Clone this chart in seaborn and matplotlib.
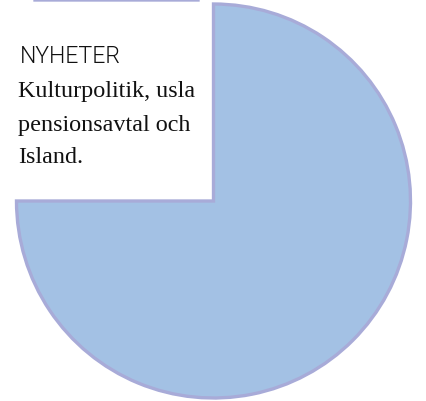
import matplotlib
matplotlib.use("Agg")
import matplotlib.pyplot as plt
import seaborn as sns

# Data
labels = ["Övrigt", "Nyheter"]
shares = [75, 25]
heading = "NYHETER"
body_lines = ["Kulturpolitik, usla", "pensionsavtal och", "Island."]

sns.set_theme(style="white")
plt.rcParams["font.family"] = ["DejaVu Sans"]

W, H = 426, 402
fig = plt.figure(figsize=(W / 100, H / 100), dpi=100)
ax = fig.add_axes([0, 0, 1, 1])

fill = "#a3c1e4"
edge = "#a8abd8"
R = 197
cx, cy = 213.5, H - 202

wedges, _ = ax.pie(shares, startangle=90, counterclock=False, radius=R,
                   center=(cx, cy), colors=[fill, fill],
                   wedgeprops=dict(edgecolor=edge, linewidth=2.4),
                   frame=True)
# the "Nyheter" slice is pulled out of the pie, above the visible area
wedges[1].set_center((198, H - 1))
wedges[1].set_radius(163)
ax.set_xlim(0, W)
ax.set_ylim(0, H)
ax.set_aspect("equal")
ax.axis("off")

ax.text(20, H - 63, heading, fontsize=16.6, family=["Roboto", "DejaVu Sans"],
        fontweight=300, color="#111111", va="baseline", ha="left")
baselines = [97, 131, 163]
for line, b in zip(body_lines, baselines):
    ax.text(18, H - b, line, fontsize=17.4, family=["Liberation Serif", "DejaVu Serif"],
            color="#111111", va="baseline", ha="left")

fig.savefig("out.png", dpi=100, facecolor="white")
